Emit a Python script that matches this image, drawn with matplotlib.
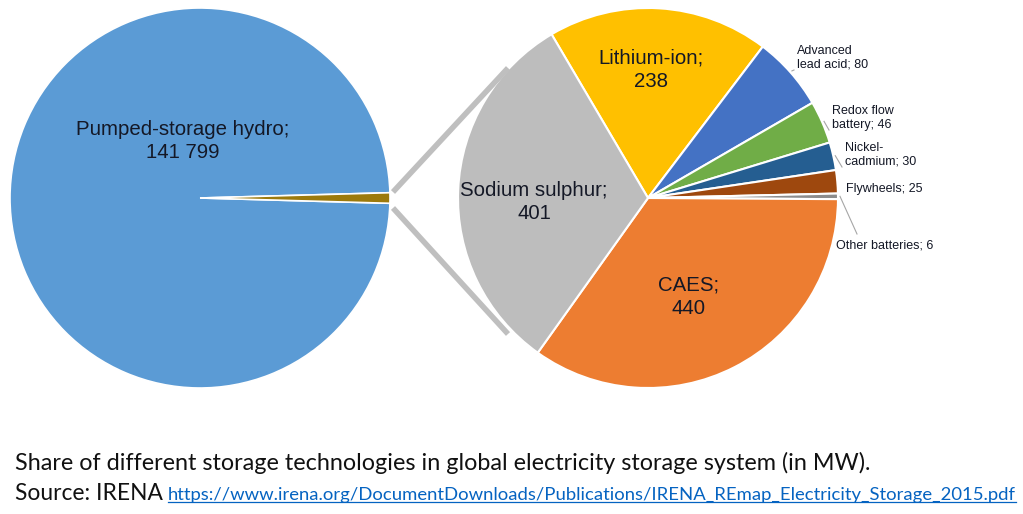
import numpy as np
import matplotlib
matplotlib.use("Agg")
import matplotlib.pyplot as plt

# ---- data (MW) ----
main_labels = ["Pumped-storage hydro", "Other storage"]
main_values = [141799, 1266]

sub_labels = ["Lithium-ion", "Advanced\nlead acid", "Redox flow\nbattery", "Nickel-\ncadmium",
              "Flywheels", "Other batteries", "CAES", "Sodium sulphur"]
sub_values = [238, 80, 46, 30, 25, 6, 440, 401]

MAIN_COLORS = ["#5B9BD5", "#9C7A0C"]
SUB_COLORS = ["#FFC000", "#4472C4", "#70AD47", "#255E91", "#9E480E", "#8C8C8C", "#ED7D31", "#BDBDBD"]

W, H = 1023, 514
fig = plt.figure(figsize=(W / 100, H / 100), dpi=100)
ax = fig.add_axes([0, 0, 1, 1])


def py(y):  # pixel row -> data y
    return H - y


R = 190
c_left = (200, py(198))
c_right = (648, py(198))

# left pie: small slice centred on 3 o'clock
half = 360 * main_values[1] / sum(main_values) / 2
ax.pie(main_values, colors=MAIN_COLORS, center=c_left, radius=R, startangle=half,
       wedgeprops=dict(edgecolor="white", linewidth=1.2), frame=True)

# right pie, clockwise from top-left
wedges, _ = ax.pie(sub_values, colors=SUB_COLORS, center=c_right, radius=R, startangle=120.5,
                   counterclock=False, wedgeprops=dict(edgecolor="white", linewidth=1.5), frame=True)
ax.set_xlim(0, W); ax.set_ylim(0, H); ax.set_aspect("equal"); ax.axis("off")

# connector lines
ax.plot([393, 508], [py(192), py(68)], color="#BFBFBF", lw=4, solid_capstyle="butt")
ax.plot([393, 508], [py(208), py(334)], color="#BFBFBF", lw=4, solid_capstyle="butt")

INK = "#141826"
lab = dict(family=["Liberation Sans", "DejaVu Sans"], color=INK)
ax.text(183, py(141), f"Pumped-storage hydro;\n{main_values[0]:,}".replace(",", " "),
        ha="center", va="center", fontsize=14.7, linespacing=1.3, **lab)

big = {"Lithium-ion": (651, 70), "CAES": (689, 297), "Sodium sulphur": (534, 202)}
for name, (x, y) in big.items():
    v = sub_values[sub_labels.index(name)]
    ax.text(x, py(y), f"{name};\n{v}", ha="center", va="center", fontsize=14.7,
            linespacing=1.3, **lab)

small = {"Advanced\nlead acid": (797, 58), "Redox flow\nbattery": (832, 118),
         "Nickel-\ncadmium": (845, 155), "Flywheels": (846, 189), "Other batteries": (836, 245)}
for name, (x, y) in small.items():
    i = sub_labels.index(name)
    w = wedges[i]
    mid = np.deg2rad((w.theta1 + w.theta2) / 2)
    ex = c_right[0] + (R + 2) * np.cos(mid)
    ey = c_right[1] + (R + 2) * np.sin(mid)
    ax.text(x, py(y), f"{name}; {sub_values[i]}", ha="left", va="center", fontsize=9,
            linespacing=1.15, **lab)
    if name == "Other batteries":
        ax.plot([ex, 857], [ey, py(234)], color="#A6A6A6", lw=0.8)
    elif name != "Flywheels":
        ax.plot([ex, x - 3], [ey, py(y + 12 if "\n" in name else y)], color="#A6A6A6", lw=0.8)

# caption
cap = dict(family=["Lato", "DejaVu Sans"], color="#111111")
ax.text(15, py(463), "Share of different storage technologies in global electricity storage system (in MW).",
        ha="left", va="center", fontsize=16.8, **cap)
src = ax.text(15, py(494), "Source: IRENA", ha="left", va="center", fontsize=16.4, **cap)
fig.canvas.draw()
bb = src.get_window_extent()
x0 = bb.x1 + 5
link = ax.text(x0, py(495), "https://www.irena.org/DocumentDownloads/Publications/IRENA_REmap_Electricity_Storage_2015.pdf",
               ha="left", va="center", fontsize=13.3, family=["Lato", "DejaVu Sans"], color="#0563C1")
fig.canvas.draw()
lb = link.get_window_extent()
ax.plot([lb.x0, lb.x1], [lb.y0 + 1, lb.y0 + 1], color="#0563C1", lw=0.9)

fig.savefig("out.png", dpi=100)
